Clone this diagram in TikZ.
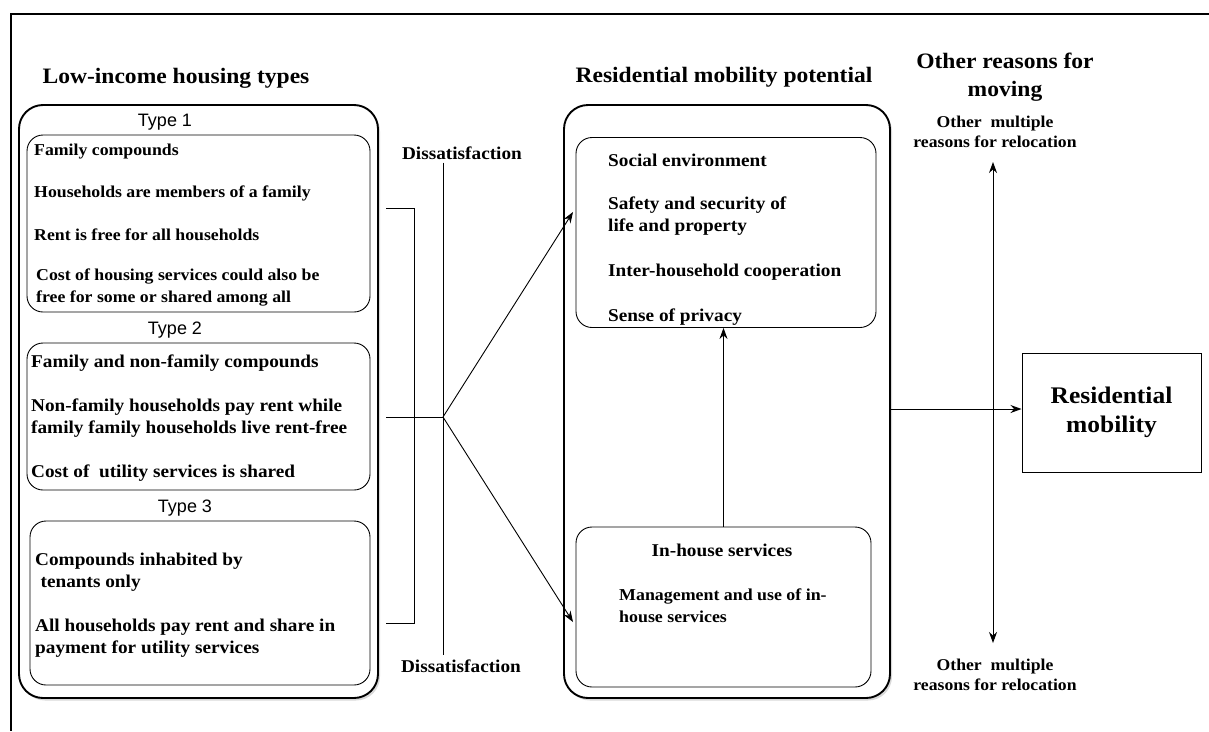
\documentclass[tikz,border=0pt]{standalone}
\usepackage{fontspec}
\setmainfont{Liberation Serif}[FakeStretch=1.07]
\newfontfamily\typefont{Liberation Sans}
\usetikzlibrary{arrows.meta,shadows}

\begin{document}
\begin{tikzpicture}[x=1pt,y=-1pt,
    outerbox/.style={draw,line width=1.9pt,rounded corners=24pt,fill=white,inner sep=0pt,
      drop shadow={shadow xshift=2pt,shadow yshift=-2.5pt,opacity=0.3}},
    innerbox/.style={draw,line width=0.9pt,rounded corners=16pt,inner sep=0pt},
    txt/.style={font=\fontsize{#1}{22}\selectfont\bfseries,anchor=west,inner sep=0pt,align=left},
    txt/.default=18,
    ctxt/.style={font=\fontsize{#1}{20}\selectfont\bfseries,inner sep=0pt,align=center},
    ctxt/.default=18,
    head/.style={font=\fontsize{22}{28}\selectfont\bfseries,inner sep=0pt,align=center},
    typelbl/.style={font=\typefont\fontsize{18}{20}\selectfont,inner sep=0pt},
    arr/.style={-{Stealth[length=11pt,width=8pt]},line width=0.9pt},
    dblarr/.style={{Stealth[length=11pt,width=8pt]}-{Stealth[length=11pt,width=8pt]},line width=0.9pt}]
  \useasboundingbox (0,0) rectangle (1209,731);
  % frame
  \draw[line width=2.6pt] (10,14) -- (1209,14);
  \draw[line width=2pt] (11,14) -- (11,731);

  % headings
  \node[head] (lowhead) at (176,78) {Low-income housing types};
  \node[head] (pothead) at (724,77) {Residential mobility potential};
  \node[head] (othhead) at (1005,77) {Other reasons for\\moving};

  % low-income housing types
  \node[outerbox,minimum width=359pt,minimum height=593pt] (lowbox) at (198.5,401.5) {};
  \node[typelbl] (type1) at (165,122) {Type 1};
  \node[innerbox,minimum width=343pt,minimum height=177pt] (t1box) at (198.5,223.5) {};
  \node[txt=16.6] (t1a) at (34,152) {Family compounds};
  \node[txt=16.6] (t1b) at (34,193) {Households are members of a family};
  \node[txt=16.6] (t1c) at (34,235) {Rent is free for all households};
  \node[txt=16.6] (t1d) at (36,287) {Cost of housing services could also be\\free for some or shared among all};

  \node[typelbl] (type2) at (175,330) {Type 2};
  \node[innerbox,minimum width=343pt,minimum height=147pt] (t2box) at (198.5,416.5) {};
  \node[txt] (t2a) at (31,363) {Family and non-family compounds};
  \node[txt] (t2b) at (31,418) {Non-family households pay rent while\\family family households live rent-free};
  \node[txt] (t2c) at (31,473) {Cost of \ utility services is shared};

  \node[typelbl] (type3) at (185,508) {Type 3};
  \node[innerbox,minimum width=340pt,minimum height=164pt] (t3box) at (200,603) {};
  \node[txt] (t3a) at (35,572) {Compounds inhabited by\\\hspace{0.3em}tenants only};
  \node[txt] (t3b) at (35,638) {All households pay rent and share in\\payment for utility services};

  % dissatisfaction
  \node[ctxt] (distop) at (462,153) {Dissatisfaction};
  \node[ctxt] (disbot) at (461,666) {Dissatisfaction};
  \coordinate (fan) at (443,417);
  \coordinate (brtop) at (386,208);
  \coordinate (brmid) at (386,417);
  \coordinate (brbot) at (386,623);
  \draw[line width=0.9pt] (brtop) -- ++(28,0) |- (brbot);
  \draw[line width=0.9pt] (brmid) -- (fan);
  \draw[line width=0.9pt] ([yshift=-3pt]distop.south -| fan) -- ([yshift=4pt]disbot.north -| fan);

  % residential mobility potential
  \node[outerbox,minimum width=326pt,minimum height=593pt] (potbox) at (727,401.5) {};
  \node[innerbox,minimum width=300pt,minimum height=190pt] (socbox) at (726,232.5) {};
  \node[txt] (s1) at (608,160) {Social environment};
  \node[txt] (s2) at (608,216) {Safety and security of\\life and property};
  \node[txt] (s3) at (608,272) {Inter-household cooperation};
  \node[txt] (s4) at (608,317) {Sense of privacy};
  \node[innerbox,minimum width=295pt,minimum height=160pt] (srvbox) at (723.5,607) {};
  \node[ctxt] (h1) at (722,550) {In-house services};
  \node[txt=16.7] (h2) at (619,606) {Management and use of in-\\house services};
  \coordinate (tiptop) at (573,212);
  \coordinate (tipbot) at (573,622);
  \draw[arr] (fan) -- (tiptop);
  \draw[arr] (fan) -- (tipbot);
  \draw[arr] (srvbox.north) -- (srvbox.north |- socbox.south);

  % outcome
  \node[draw,line width=1pt,minimum width=179pt,minimum height=119pt,inner sep=0pt,
    font=\fontsize{23.8}{29}\selectfont\bfseries,align=center] (mobility) at (1111.5,412.5) {Residential\\mobility};
  \draw[arr] (potbox.east |- 0,409) -- (mobility.west |- 0,409);

  % other reasons
  \node[ctxt=16.5] (othtop) at (995,132) {Other \ multiple\\reasons for relocation};
  \node[ctxt=16.5] (othbot) at (995,675) {Other \ multiple\\reasons for relocation};
  \draw[dblarr] ([xshift=-2pt,yshift=-14pt]othtop.south) -- ([xshift=-2pt,yshift=16pt]othbot.north);
\end{tikzpicture}
\end{document}
